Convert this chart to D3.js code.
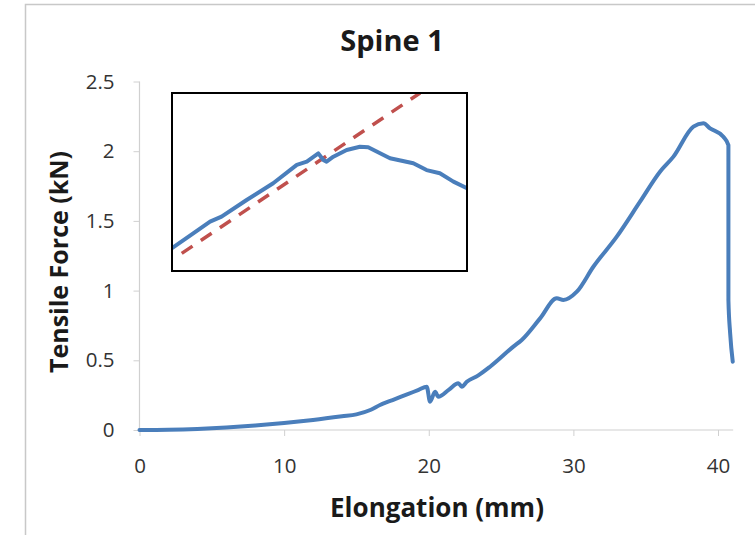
<!DOCTYPE html>
<html><head><meta charset="utf-8">
<script src="https://cdn.jsdelivr.net/npm/d3@7"></script>
<style>
html,body{margin:0;padding:0;background:#fff;}
svg{display:block;}
</style></head>
<body>
<script>
// ---- Data ----
const title = "Spine 1";
const xLabel = "Elongation (mm)";
const yLabel = "Tensile Force (kN)";
const xTicks = [0, 10, 20, 30, 40];
const yTicks = [0, 0.5, 1, 1.5, 2, 2.5];

// main curve: elongation (mm) and force (kN)
const elongation = [0, 2, 4, 6, 8, 10, 12, 14, 15, 16, 16.63, 17.5, 18.5, 19.3, 19.86, 20.09, 20.44, 20.66, 21.4, 22.05, 22.28, 22.63, 23.4, 24.24, 25.85, 26.43, 27.7, 28.85, 29.31, 30.24, 31.38, 33.0, 34.61, 35.99, 36.92, 38.3, 38.99, 39.45, 40.37, 40.72, 40.72, 40.72, 40.84, 41.02];
const force      = [0, 0.002, 0.008, 0.018, 0.032, 0.05, 0.072, 0.098, 0.112, 0.145, 0.179, 0.215, 0.255, 0.288, 0.311, 0.203, 0.275, 0.239, 0.29, 0.335, 0.311, 0.346, 0.39, 0.454, 0.598, 0.646, 0.801, 0.945, 0.933, 0.992, 1.171, 1.387, 1.638, 1.853, 1.961, 2.176, 2.2, 2.164, 2.104, 2.044, 1.65, 0.933, 0.694, 0.49];

// inset (relative units 0..100)
const insetX = [0, 7.2, 12.9, 16.8, 25.3, 34.3, 42.3, 45.7, 49.6, 51.3, 52.4, 54.7, 59.2, 63.7, 66.5, 73.9, 81.8, 86.3, 90.8, 95.4, 100];
const insetY = [12.8, 21.2, 27.7, 30.5, 39.9, 49.3, 59.6, 61.4, 66.1, 62.4, 61.4, 64.2, 68.0, 69.8, 69.5, 63.3, 60.5, 56.7, 54.9, 50.2, 46.5];
const fitX = [3.3, 84.1];
const fitY = [9.9, 100];

// ---- Drawing ----
const W = 755, H = 535;
const svg = d3.select("body").append("svg").attr("width", W).attr("height", H);
const font = "'Open Sans', 'Noto Sans', sans-serif";

// chart frame
svg.append("rect").attr("x", 25.5).attr("y", 4.5).attr("width", 740).attr("height", 560)
  .attr("fill", "#fff").attr("stroke", "#c8c8c8").attr("stroke-width", 1.5);

const x = d3.scaleLinear().domain([0, 40]).range([139.5, 718]);
const y = d3.scaleLinear().domain([0, 2.5]).range([430, 81.5]);

// axes
const xAxis = d3.axisBottom(x).tickValues(xTicks).tickSize(6).tickFormat(d3.format("d"));
const yAxis = d3.axisLeft(y).tickValues(yTicks).tickSize(6).tickFormat(d => d3.format("")(d));

const gx = svg.append("g").attr("transform", "translate(0,430)").call(xAxis);
gx.select(".domain").attr("d", `M${x(0)},0H${x(41.05)}`).attr("stroke", "#d0d0d0").attr("stroke-width", 1.2);
gx.selectAll(".tick line").attr("stroke", "#d0d0d0");
gx.selectAll(".tick text").attr("y", 28).attr("font-size", 20.5).attr("fill", "#333").attr("font-family", font);

const gy = svg.append("g").attr("transform", "translate(139.5,0)").call(yAxis);
gy.select(".domain").attr("d", `M0,${y(2.5)}V${y(0)}`).attr("stroke", "#d0d0d0").attr("stroke-width", 1.2);
gy.selectAll(".tick line").attr("stroke", "#d0d0d0");
gy.selectAll(".tick text").attr("x", -25).attr("font-size", 20.5).attr("fill", "#333").attr("font-family", font);

// main curve
const pts = elongation.map((e, i) => [e, force[i]]);
svg.append("path").datum(pts)
  .attr("d", d3.line().x(d => x(d[0])).y(d => y(d[1])).curve(d3.curveMonotoneX))
  .attr("fill", "none").attr("stroke", "#4a7ebb").attr("stroke-width", 4)
  .attr("stroke-linejoin", "round").attr("stroke-linecap", "round");

// titles
svg.append("text").attr("x", 392).attr("y", 51).attr("text-anchor", "middle")
  .attr("font-family", font).attr("font-weight", "bold").attr("font-size", 29).attr("fill", "#1a1a1a").text(title);
svg.append("text").attr("x", 437).attr("y", 517).attr("text-anchor", "middle")
  .attr("font-family", font).attr("font-weight", "bold").attr("font-size", 26).attr("fill", "#1a1a1a").text(xLabel);
svg.append("text").attr("transform", "translate(68,262) rotate(-90)").attr("text-anchor", "middle")
  .attr("font-family", font).attr("font-weight", "bold").attr("font-size", 25).attr("fill", "#1a1a1a").text(yLabel);

// inset
const ix = d3.scaleLinear().domain([0, 100]).range([172, 467]);
const iy = d3.scaleLinear().domain([0, 100]).range([271, 93]);
const inset = svg.append("g");
inset.append("rect").attr("x", 172).attr("y", 93).attr("width", 295).attr("height", 178)
  .attr("fill", "#fff");
const clip = svg.append("clipPath").attr("id", "insetClip");
clip.append("rect").attr("x", 172).attr("y", 93).attr("width", 295).attr("height", 178);
const ig = inset.append("g").attr("clip-path", "url(#insetClip)");
ig.append("path").datum(fitX.map((v, i) => [v, fitY[i]]))
  .attr("d", d3.line().x(d => ix(d[0])).y(d => iy(d[1])))
  .attr("fill", "none").attr("stroke", "#c0504d").attr("stroke-width", 3.5).attr("stroke-dasharray", "13,10");
ig.append("path").datum(insetX.map((v, i) => [v, insetY[i]]))
  .attr("d", d3.line().x(d => ix(d[0])).y(d => iy(d[1])))
  .attr("fill", "none").attr("stroke", "#4a7ebb").attr("stroke-width", 4).attr("stroke-linejoin", "round");
inset.append("rect").attr("x", 172).attr("y", 93).attr("width", 295).attr("height", 178)
  .attr("fill", "none").attr("stroke", "#000").attr("stroke-width", 2);
</script>
</body></html>
